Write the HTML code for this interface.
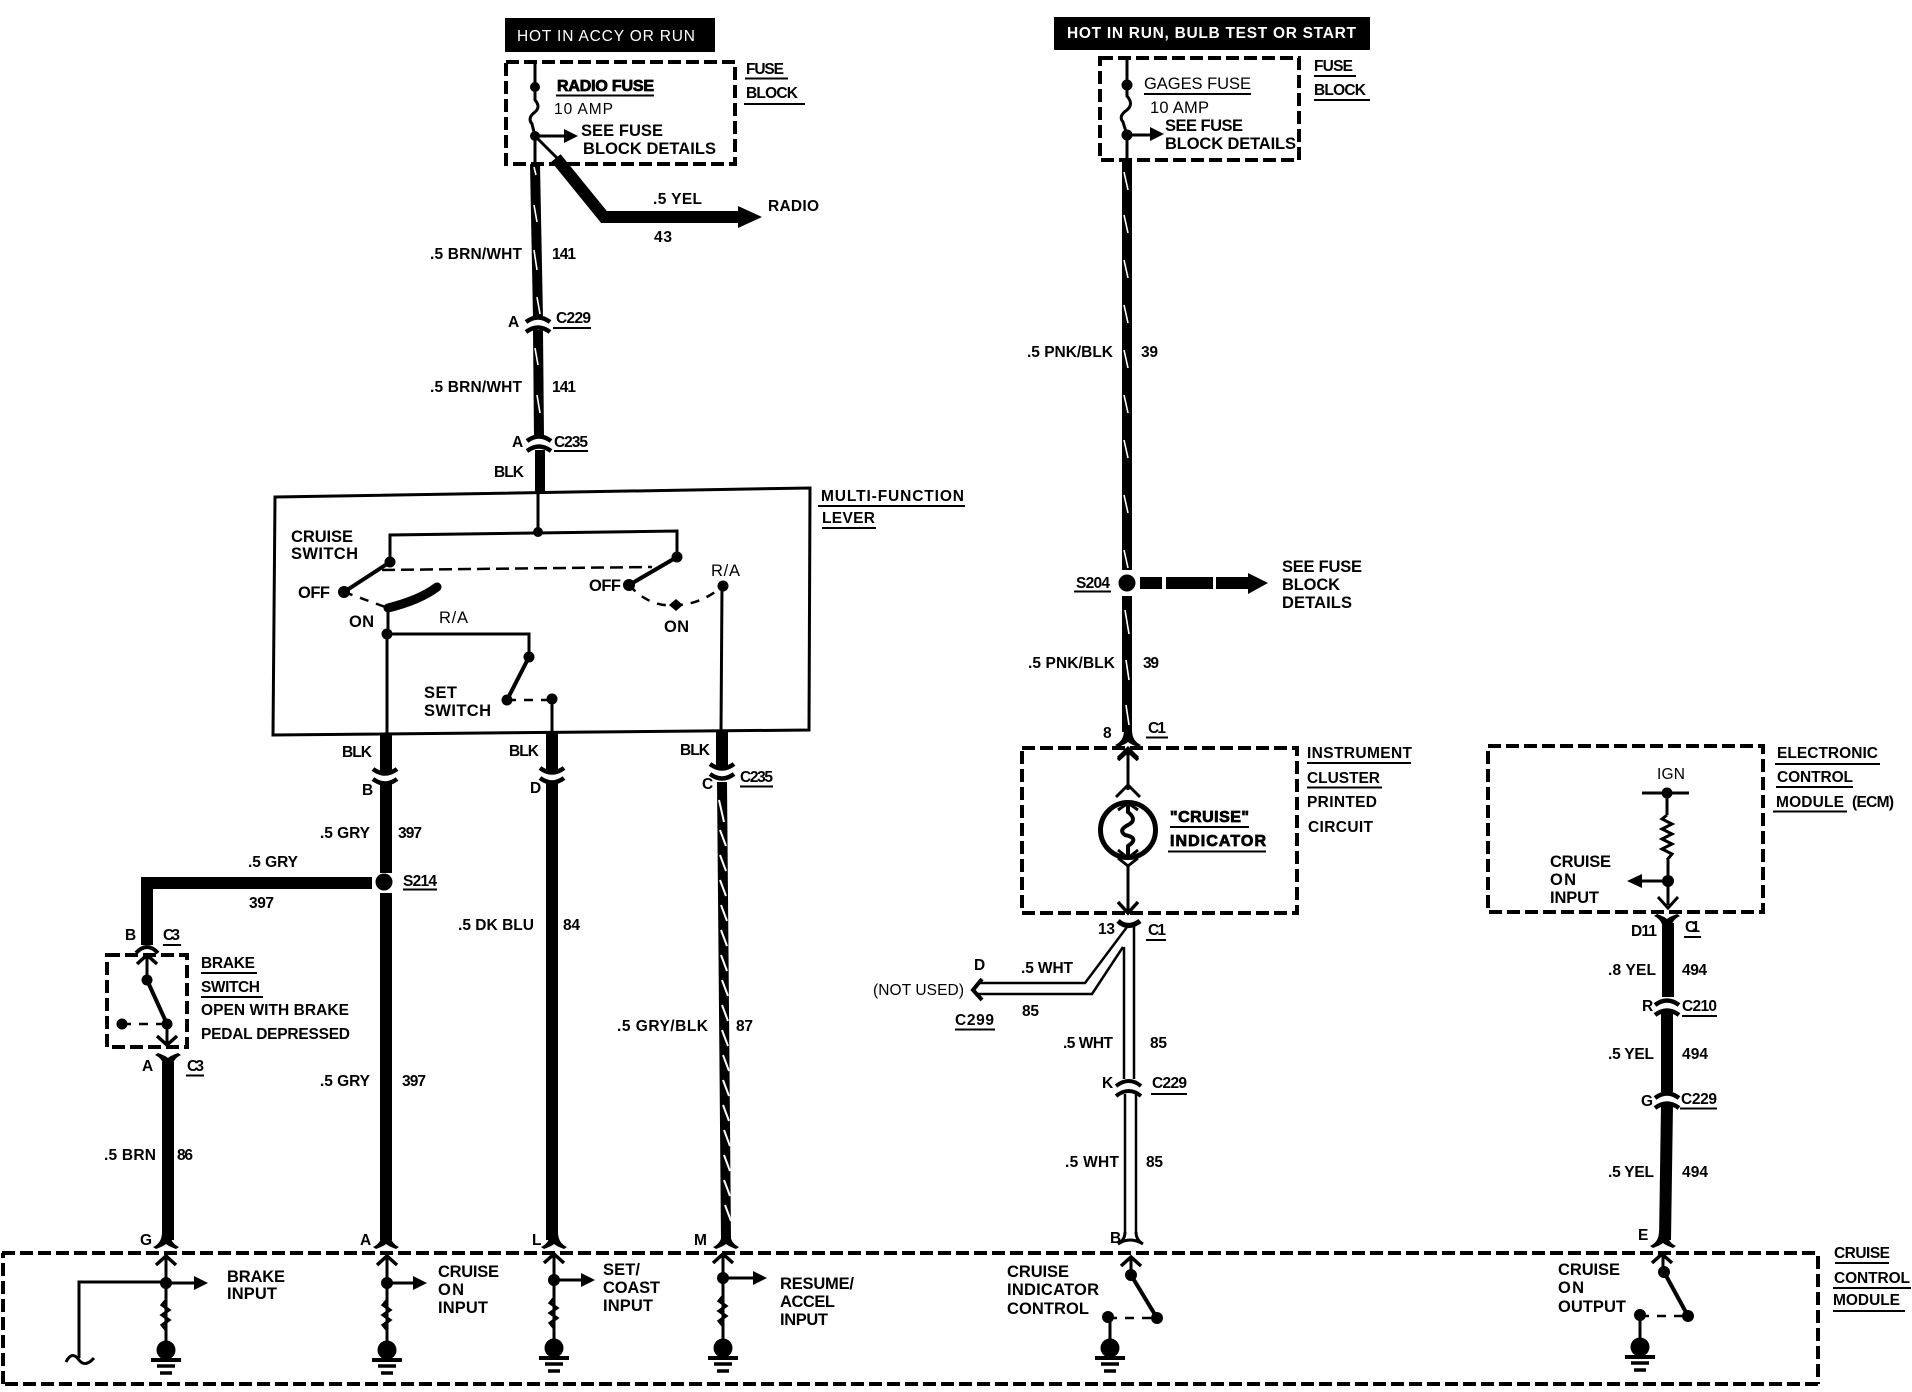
<!DOCTYPE html>
<html><head><meta charset="utf-8"><title>Cruise control wiring diagram</title>
<style>
html,body{margin:0;padding:0;background:#fff}
svg{display:block}
text{font-family:"Liberation Sans",sans-serif;font-weight:700;fill:#000}
.t{font-size:15.5px}
.b{font-size:16.5px}
.hv{stroke:#000;stroke-width:.8px;font-size:16px}
.l{stroke:#000;fill:none;stroke-width:3}
.h{stroke:#fff;fill:none;stroke-width:1.6}
.wire{stroke:#000;fill:none;stroke-width:10}
.wt{stroke:#000;fill:none;stroke-width:12}
.d{stroke:#000;fill:none;stroke-width:4;stroke-dasharray:13 5}
.ds{stroke:#000;fill:none;stroke-width:2.5;stroke-dasharray:9 8}
.u{stroke:#000;fill:none;stroke-width:2}
</style></head><body>
<svg width="1912" height="1392" viewBox="0 0 1912 1392" xmlns="http://www.w3.org/2000/svg">
<defs>
<g id="cup"><path d="M-12 0 Q0 -9 12 0" fill="none" stroke="#000" stroke-width="4.5"/><path d="M-12 10 Q0 1 12 10" fill="none" stroke="#000" stroke-width="4.5"/></g>
<g id="cdn"><path d="M-12 -8 Q0 1 12 -8" fill="none" stroke="#000" stroke-width="4.5"/><path d="M-12 2 Q0 11 12 2" fill="none" stroke="#000" stroke-width="4.5"/></g>
<path id="flare" d="M-13 7 Q-4 3 -4 -8 L4 -8 Q4 3 13 7 L10 9 Q2 6 0 4 Q-2 6 -10 9 Z" fill="#000"/>
<path id="chev" d="M-10 10 L0 1 L10 10" fill="none" stroke="#000" stroke-width="3.5"/>
<path id="res" d="M0 0 l-4 5 l7 5 l-7 5 l7 5 l-7 5 l4 5" fill="none" stroke="#000" stroke-width="3"/>
<g id="gnd"><circle cx="0" cy="0" r="9.5" fill="#000"/><path d="M-15 10 H15" stroke="#000" stroke-width="4"/><path d="M-9 16 H9" stroke="#000" stroke-width="3.5"/><path d="M-6 23 H6" stroke="#000" stroke-width="3.5"/></g>
<path id="ar" d="M0 -7 L14 0 L0 7 Z" fill="#000"/>
</defs>

<!-- Left fuse block -->
<rect x="505" y="18" width="210" height="34" fill="#000"/>
<text x="517" y="41" textLength="178" style="fill:#fff;font-weight:400;font-size:15.5px">HOT IN ACCY OR RUN</text>
<rect class="d" x="506" y="62" width="229" height="102"/>
<path class="l" d="M535 62 V100 Q541 107 535 112 Q527 118 532 124 L535 136 V164"/>
<circle cx="535" cy="87" r="5"/><circle cx="535" cy="136" r="5"/>
<path class="l" d="M535 136 H566"/><use href="#ar" x="564" y="136"/>
<path class="l" d="M535 136 L557 158"/>
<path d="M556 158 L604 217 H745" fill="none" stroke="#000" stroke-width="12"/>
<path d="M738 206 L762 217 L738 228 Z" fill="#000"/>
<text class="hv" x="557" y="91" textLength="97">RADIO FUSE</text><path class="u" d="M556 95.5 H654"/>
<text class="b" x="554" y="114" textLength="59" style="font-size:15.5px;font-weight:400">10 AMP</text>
<text class="b" x="581" y="136" textLength="82">SEE FUSE</text>
<text class="b" x="583" y="154" textLength="133">BLOCK DETAILS</text>
<text class="t" x="746" y="74" textLength="38">FUSE</text><path class="u" d="M745 78.5 H788"/>
<text class="t" x="746" y="98" textLength="52">BLOCK</text><path class="u" d="M744 104 H805"/>
<text class="t" x="653" y="204" textLength="49">.5 YEL</text>
<text class="t" x="654" y="242" textLength="18">43</text>
<text class="t" x="768" y="211" textLength="51">RADIO</text>

<!-- Wire 141 -->
<path class="wire" d="M535 164 L538 318"/>
<use href="#cup" x="538" y="322"/>
<path class="wire" d="M538 330 L539 438"/>
<use href="#cup" x="539" y="441"/>
<path class="wire" d="M540 450 V492"/>
<path class="h" d="M534 167 l2 8 M534 205 l3 17 M534 250 l3 20 M537 297 l3 17 M535 348 l3 17 M537 395 l3 18"/>
<text class="t" x="430" y="259" textLength="92">.5 BRN/WHT</text><text class="t" x="552" y="259" textLength="24">141</text>
<text class="t" x="430" y="392" textLength="92">.5 BRN/WHT</text><text class="t" x="552" y="392" textLength="24">141</text>
<text class="t" x="508" y="327" textLength="11">A</text>
<text class="t" x="556" y="323" textLength="35">C229</text><path class="u" d="M553 328 H591"/>
<text class="t" x="512" y="447" textLength="10">A</text>
<text class="t" x="554" y="447" textLength="34">C235</text><path class="u" d="M554 451 H588"/>
<text class="t" x="494" y="477" textLength="30">BLK</text>

<!-- Multifunction lever -->
<path d="M275 497 L810 488 L809 730 L273 735 Z" fill="none" stroke="#000" stroke-width="3"/>
<text class="t" x="821" y="501" textLength="143">MULTI-FUNCTION</text><path class="u" d="M818 506 H965"/>
<text class="t" x="822" y="523" textLength="53">LEVER</text><path class="u" d="M822 528 H876"/>
<path class="l" d="M538 492 V532 M390 562 V535 L677 531 V557"/>
<circle cx="538" cy="532" r="5"/><circle cx="390" cy="562" r="5.5"/><circle cx="677" cy="557" r="5.5"/>
<path d="M390 562 L344 592 M677 557 L629 585" stroke="#000" stroke-width="4" fill="none"/>
<circle cx="344" cy="592" r="6"/><circle cx="629" cy="585" r="6"/>
<path class="ds" d="M382 570 L652 567" style="stroke-dasharray:13 6"/>
<path class="ds" d="M344 592 L388 608"/>
<path d="M388 608 Q420 600 437 587" stroke="#000" stroke-width="9" fill="none" stroke-linecap="round"/>
<path class="l" d="M388 608 V634 H529 V657 M387 634 V735"/>
<circle cx="387" cy="634" r="5.5"/><circle cx="529" cy="657" r="5.5"/>
<path d="M529 657 L507 700" stroke="#000" stroke-width="4"/>
<circle cx="507" cy="700" r="5.5"/><circle cx="552" cy="699" r="5.5"/>
<path class="ds" d="M507 700 H552"/><path class="l" d="M552 699 V732"/>
<path class="ds" d="M629 585 Q650 608 676 605 Q700 605 723 586"/>
<path d="M669 605 L676 599 L683 605 L676 611 Z" fill="#000"/>
<circle cx="723" cy="586" r="5.5"/><path class="l" d="M722 586 L721 732"/>
<text class="b" x="291" y="542" textLength="62">CRUISE</text>
<text class="b" x="291" y="559" textLength="67">SWITCH</text>
<text class="b" x="298" y="598" textLength="32">OFF</text>
<text class="b" x="349" y="627" textLength="25">ON</text>
<text class="b" x="439" y="623" textLength="29" style="font-weight:400">R/A</text>
<text class="b" x="589" y="591" textLength="32">OFF</text>
<text class="b" x="711" y="576" textLength="29" style="font-weight:400">R/A</text>
<text class="b" x="664" y="632" textLength="25">ON</text>
<text class="b" x="424" y="698" textLength="33">SET</text>
<text class="b" x="424" y="716" textLength="67">SWITCH</text>

<!-- Lever wires -->
<path class="wt" d="M386 735 V772 M552 733 V771 M722 732 V768"/>
<use href="#cdn" x="385" y="777"/><use href="#cdn" x="552" y="776"/><use href="#cdn" x="722" y="772"/>
<path class="wt" d="M386 784 V873 M386 893 V1240"/>
<path class="wt" d="M552 783 V1240"/>
<path d="M722 782 L726 1240" stroke="#000" stroke-width="10" fill="none"/>
<path stroke="#fff" stroke-width="2" fill="none" d="M719 800 l5 22 M720 830 l6 16 M720 855 l6 16 M720 880 l6 16 M721 905 l6 16 M721 930 l6 16 M721 955 l6 16 M722 980 l6 16 M722 1005 l6 16 M722 1030 l6 16 M723 1055 l6 16 M723 1080 l6 16 M723 1105 l6 16 M724 1130 l6 16 M724 1155 l6 16 M724 1180 l6 16 M725 1205 l6 16"/>
<circle cx="384" cy="882" r="8.5"/>
<path class="wt" d="M372 883 H147 V945"/>
<path d="M136 953 Q147 941 158 953" stroke="#000" stroke-width="4" fill="none"/>
<text class="t" x="342" y="757" textLength="30">BLK</text>
<text class="t" x="509" y="756" textLength="30">BLK</text>
<text class="t" x="680" y="755" textLength="30">BLK</text>
<text class="t" x="362" y="795" textLength="9">B</text>
<text class="t" x="530" y="793" textLength="9">D</text>
<text class="t" x="702" y="789" textLength="9">C</text>
<text class="t" x="740" y="782" textLength="33">C235</text><path class="u" d="M740 786.5 H773"/>
<text class="t" x="320" y="838" textLength="50">.5 GRY</text><text class="t" x="398" y="838" textLength="24">397</text>
<text class="t" x="248" y="867" textLength="50">.5 GRY</text><text class="t" x="249" y="908" textLength="25">397</text>
<text class="t" x="403" y="886" textLength="34">S214</text><path class="u" d="M403 889.5 H437"/>
<text class="t" x="320" y="1086" textLength="50">.5 GRY</text><text class="t" x="402" y="1086" textLength="24">397</text>
<text class="t" x="458" y="930" textLength="76">.5 DK BLU</text><text class="t" x="563" y="930" textLength="17">84</text>
<text class="t" x="617" y="1031" textLength="91">.5 GRY/BLK</text><text class="t" x="736" y="1031" textLength="17">87</text>

<!-- Brake switch -->
<rect class="d" x="107" y="955" width="80" height="92"/>
<use href="#chev" x="147" y="954"/>
<path class="l" d="M147 955 V980"/><circle cx="147" cy="980" r="5.5"/>
<path d="M147 980 L167 1024" stroke="#000" stroke-width="4"/>
<circle cx="167" cy="1024" r="5.5"/><circle cx="122" cy="1024" r="5.5"/>
<path class="ds" d="M122 1024 H167"/><path class="l" d="M167 1024 V1045"/>
<path d="M157 1036 L167 1045 L177 1036" stroke="#000" stroke-width="3.5" fill="none"/>
<use href="#flare" transform="translate(168 1062) scale(1 -1)"/>
<path class="wt" d="M168 1062 V1240"/>
<text class="t" x="125" y="940" textLength="9">B</text>
<text class="t" x="163" y="940" textLength="17">C3</text><path class="u" d="M163 945 H181"/>
<text class="t" x="142" y="1071" textLength="11">A</text>
<text class="t" x="187" y="1071" textLength="17">C3</text><path class="u" d="M186 1075.5 H204"/>
<text class="t" x="201" y="968" textLength="54">BRAKE</text><path class="u" d="M201 973 H257"/>
<text class="t" x="201" y="992" textLength="59">SWITCH</text><path class="u" d="M201 997 H263"/>
<text class="t" x="201" y="1015" textLength="148">OPEN WITH BRAKE</text>
<text class="t" x="201" y="1039" textLength="149">PEDAL DEPRESSED</text>
<text class="t" x="104" y="1160" textLength="52">.5 BRN</text><text class="t" x="177" y="1160" textLength="16">86</text>

<!-- Cruise control module -->
<path class="d" d="M2 1253 H1818 M1818 1256 V1384 M1818 1384 H2 M3 1384 V1253"/>
<text class="t" x="1834" y="1258" textLength="56">CRUISE</text><path class="u" d="M1835 1263 H1889"/>
<text class="t" x="1834" y="1283" textLength="76">CONTROL</text><path class="u" d="M1833 1288 H1911"/>
<text class="t" x="1833" y="1305" textLength="67">MODULE</text><path class="u" d="M1833 1311 H1905"/>

<use href="#flare" x="166" y="1240"/><use href="#chev" x="166" y="1255"/>
<path class="l" d="M166 1256 V1345"/><circle cx="166" cy="1283" r="6"/>
<path class="l" d="M166 1283 H196"/><use href="#ar" x="194" y="1283"/>
<path class="l" d="M166 1282 H79 V1358"/>
<path class="l" d="M66 1362 Q72 1350 79 1360 Q85 1368 94 1358"/>
<use href="#res" x="166" y="1300"/><use href="#gnd" x="166" y="1350"/>
<text class="t" x="140" y="1245" textLength="9">G</text>
<text class="b" x="227" y="1282" textLength="58">BRAKE</text><text class="b" x="227" y="1299" textLength="50">INPUT</text>

<use href="#flare" x="386" y="1240"/><use href="#chev" x="387" y="1255"/>
<path class="l" d="M387 1256 V1345"/><circle cx="387" cy="1283" r="6"/>
<path class="l" d="M387 1283 H415"/><use href="#ar" x="413" y="1283"/>
<use href="#res" x="387" y="1300"/><use href="#gnd" x="387" y="1350"/>
<text class="t" x="360" y="1245" textLength="10">A</text>
<text class="b" x="438" y="1277" textLength="61">CRUISE</text><text class="b" x="438" y="1295" textLength="26">ON</text><text class="b" x="438" y="1313" textLength="50">INPUT</text>

<use href="#flare" x="554" y="1240"/><use href="#chev" x="554" y="1253"/>
<path class="l" d="M554 1254 V1345"/><circle cx="554" cy="1280" r="6"/>
<path class="l" d="M554 1280 H583"/><use href="#ar" x="581" y="1280"/>
<use href="#res" x="554" y="1298"/><use href="#gnd" x="554" y="1348"/>
<text class="t" x="532" y="1245" textLength="8">L</text>
<text class="b" x="603" y="1275" textLength="37">SET/</text><text class="b" x="603" y="1293" textLength="57">COAST</text><text class="b" x="603" y="1311" textLength="50">INPUT</text>

<use href="#flare" x="726" y="1240"/><use href="#chev" x="723" y="1253"/>
<path class="l" d="M723 1254 V1345"/><circle cx="723" cy="1278" r="6"/>
<path class="l" d="M723 1278 H755"/><use href="#ar" x="753" y="1278"/>
<use href="#res" x="723" y="1296"/><use href="#gnd" x="723" y="1348"/>
<text class="t" x="694" y="1245" textLength="13">M</text>
<text class="b" x="780" y="1289" textLength="74">RESUME/</text><text class="b" x="780" y="1307" textLength="55">ACCEL</text><text class="b" x="780" y="1325" textLength="48">INPUT</text>

<use href="#chev" x="1131" y="1256"/>
<path class="l" d="M1131 1257 V1275"/><circle cx="1131" cy="1275" r="6"/>
<path d="M1131 1275 L1157 1318" stroke="#000" stroke-width="4"/>
<circle cx="1157" cy="1318" r="6"/><circle cx="1108" cy="1317" r="6"/>
<path class="ds" d="M1108 1318 H1157"/><path class="l" d="M1110 1317 V1345"/>
<use href="#gnd" x="1110" y="1348"/>
<text class="t" x="1110" y="1243" textLength="9">B</text>
<text class="b" x="1007" y="1277" textLength="62">CRUISE</text><text class="b" x="1007" y="1295" textLength="92">INDICATOR</text><text class="b" x="1007" y="1314" textLength="82">CONTROL</text>

<use href="#flare" x="1663" y="1239"/><use href="#chev" x="1662" y="1253"/>
<path class="l" d="M1663 1254 V1272"/><circle cx="1664" cy="1272" r="6"/>
<path d="M1664 1272 L1688 1316" stroke="#000" stroke-width="4"/>
<circle cx="1688" cy="1316" r="6"/><circle cx="1640" cy="1315" r="6"/>
<path class="ds" d="M1640 1316 H1688"/><path class="l" d="M1640 1315 V1345"/>
<use href="#gnd" x="1640" y="1347"/>
<text class="t" x="1638" y="1240" textLength="9">E</text>
<text class="b" x="1558" y="1275" textLength="62">CRUISE</text><text class="b" x="1558" y="1293" textLength="26">ON</text><text class="b" x="1558" y="1312" textLength="68">OUTPUT</text>

<!-- Right fuse block -->
<rect x="1054" y="17" width="316" height="33" fill="#000"/>
<text x="1067" y="38" textLength="289" style="fill:#fff;font-size:15.5px">HOT IN RUN, BULB TEST OR START</text>
<rect class="d" x="1100" y="58" width="199" height="102"/>
<path class="l" d="M1127 58 V96 Q1134 104 1127 110 Q1118 116 1123 122 L1127 135 V162"/>
<circle cx="1127" cy="85" r="5.5"/><circle cx="1127" cy="135" r="5.5"/>
<path class="l" d="M1127 135 H1152"/><use href="#ar" x="1150" y="134"/>
<text class="b" x="1144" y="89" textLength="107" style="font-weight:400">GAGES FUSE</text><path class="u" d="M1144 94 H1251"/>
<text class="b" x="1150" y="113" textLength="59" style="font-weight:400">10 AMP</text>
<text class="b" x="1165" y="131" textLength="78">SEE FUSE</text>
<text class="b" x="1165" y="149" textLength="131">BLOCK DETAILS</text>
<text class="t" x="1314" y="71" textLength="39">FUSE</text><path class="u" d="M1314 76 H1356"/>
<text class="t" x="1314" y="95" textLength="52">BLOCK</text><path class="u" d="M1314 100 H1370"/>

<!-- Wire 39 -->
<path class="wire" d="M1127 161 V570 M1127 596 V732"/>
<path class="h" d="M1124 172 l4 18 M1124 215 l4 18 M1124 260 l4 18 M1124 305 l4 18 M1124 350 l4 18 M1124 395 l4 18 M1124 440 l4 18 M1124 495 l4 18 M1124 550 l4 18 M1125 610 l4 24 M1126 660 l3 20 M1126 705 l3 20"/>
<circle cx="1127" cy="583" r="8.5"/>
<path d="M1140 577 H1162 V589 H1140 Z M1166 577 H1213 V589 H1166 Z M1216 577 H1248 V573 L1268 583 L1248 594 V589 H1216 Z" fill="#000"/>
<text class="b" x="1282" y="572" textLength="80">SEE FUSE</text><text class="b" x="1282" y="590" textLength="58">BLOCK</text><text class="b" x="1282" y="608" textLength="70">DETAILS</text>
<text class="t" x="1076" y="588" textLength="34">S204</text><path class="u" d="M1074 591.5 H1111"/>
<text class="t" x="1027" y="357" textLength="86">.5 PNK/BLK</text><text class="t" x="1141" y="357" textLength="17">39</text>
<text class="t" x="1028" y="668" textLength="87">.5 PNK/BLK</text><text class="t" x="1143" y="668" textLength="16">39</text>

<!-- Instrument cluster -->
<use href="#flare" x="1128" y="738"/>
<rect class="d" x="1022" y="748" width="275" height="165"/>
<path class="l" d="M1128 750 V790"/><use href="#chev" x="1128" y="750"/>
<path d="M1118 758 L1128 748 L1138 758" stroke="#000" stroke-width="3" fill="none"/>
<path d="M1116 797 L1128 785 L1140 797" stroke="#000" stroke-width="3" fill="none"/>
<circle cx="1128" cy="830" r="27.5" fill="none" stroke="#000" stroke-width="5"/>
<path d="M1128 805 V812 Q1138 820 1128 825 Q1118 830 1125 835 Q1140 838 1128 846 V856" fill="none" stroke="#000" stroke-width="4"/>
<path d="M1118 858 L1128 866 L1138 858 M1118 810 L1128 803 L1138 810 M1118 850 L1128 858 L1138 850" stroke="#000" stroke-width="3" fill="none"/>
<path class="l" d="M1128 866 V911"/>
<path d="M1118 902 L1128 913 L1138 902" stroke="#000" stroke-width="3.5" fill="none"/>
<text class="hv" x="1170" y="822" textLength="79">"CRUISE"</text><path class="u" d="M1170 827 H1249"/>
<text class="hv" x="1170" y="846" textLength="96">INDICATOR</text><path class="u" d="M1168 851.5 H1266"/>
<text class="t" x="1307" y="758" textLength="105">INSTRUMENT</text><path class="u" d="M1307 763 H1411"/>
<text class="t" x="1307" y="783" textLength="73">CLUSTER</text><path class="u" d="M1307 787.5 H1382"/>
<text class="t" x="1307" y="807" textLength="70">PRINTED</text>
<text class="t" x="1308" y="832" textLength="65">CIRCUIT</text>
<text class="t" x="1103" y="738" textLength="9">8</text>
<text class="t" x="1148" y="733" textLength="18">C1</text><path class="u" d="M1146 737.5 H1168"/>
<text class="t" x="1098" y="934" textLength="17">13</text>
<text class="t" x="1148" y="935" textLength="18">C1</text><path class="u" d="M1146 940 H1166"/>

<!-- White wire 85 -->
<path d="M1118 921 Q1128 930 1140 921" stroke="#000" stroke-width="5" fill="none"/>
<path d="M1134 926 V1079 M1124 947 V1079 M1127 927 L1085 983 H978 M1123 947 L1092 994 H978" stroke="#000" stroke-width="2.5" fill="none"/>
<path d="M982 979 L973 990 L982 1000" stroke="#000" stroke-width="4" fill="none"/>
<path d="M1116 1086 Q1129 1076 1141 1086 M1116 1096 Q1129 1086 1141 1096" stroke="#000" stroke-width="4" fill="none"/>
<path d="M1125 1094 V1232 M1136 1094 V1232" stroke="#000" stroke-width="2.5" fill="none"/>
<path d="M1125 1232 Q1125 1240 1118 1244 M1136 1232 Q1136 1240 1143 1244 M1118 1244 Q1130 1236 1143 1244" stroke="#000" stroke-width="3" fill="none"/>
<text class="t" x="974" y="970" textLength="11">D</text>
<text class="t" x="1021" y="973" textLength="52">.5 WHT</text>
<text class="t" x="1022" y="1016" textLength="17">85</text>
<text class="t" x="873" y="995" textLength="91" style="font-weight:400">(NOT USED)</text>
<text class="t" x="955" y="1025" textLength="39">C299</text><path class="u" d="M955 1029.5 H995"/>
<text class="t" x="1063" y="1048" textLength="50">.5 WHT</text><text class="t" x="1150" y="1048" textLength="17">85</text>
<text class="t" x="1102" y="1088" textLength="10">K</text>
<text class="t" x="1152" y="1088" textLength="35">C229</text><path class="u" d="M1151 1094 H1187"/>
<text class="t" x="1065" y="1167" textLength="54">.5 WHT</text><text class="t" x="1146" y="1167" textLength="17">85</text>

<!-- ECM -->
<rect class="d" x="1488" y="746" width="275" height="166"/>
<text class="t" x="1657" y="779" textLength="28" style="font-weight:400">IGN</text>
<path class="l" d="M1642 793 H1689 M1667 793 V815 M1668 860 V905"/>
<circle cx="1667" cy="793" r="5.5"/>
<path d="M1667 815 l-5 4 l10 5 l-10 5 l10 5 l-10 5 l10 5 l-10 5 l10 5 l-5 6" fill="none" stroke="#000" stroke-width="3"/>
<circle cx="1668" cy="881" r="6"/>
<path class="l" d="M1668 881 H1640"/><path d="M1642 874 L1627 881 L1642 888 Z" fill="#000"/>
<path d="M1658 897 L1668 908 L1678 897" stroke="#000" stroke-width="3" fill="none"/>
<text class="b" x="1550" y="867" textLength="61">CRUISE</text><text class="b" x="1550" y="885" textLength="26">ON</text><text class="b" x="1550" y="903" textLength="49">INPUT</text>
<use href="#flare" transform="translate(1667 923) scale(1 -1)"/>
<path class="wt" d="M1668 923 V997"/>
<use href="#cup" x="1667" y="1005"/>
<path class="wt" d="M1667 1012 V1092"/>
<use href="#cup" x="1667" y="1098"/>
<path class="wt" d="M1667 1105 L1665 1240"/>
<text class="t" x="1777" y="758" textLength="101">ELECTRONIC</text><path class="u" d="M1775 764 H1880"/>
<text class="t" x="1777" y="782" textLength="76">CONTROL</text><path class="u" d="M1776 787 H1853"/>
<text class="t" x="1776" y="807" textLength="68">MODULE</text><path class="u" d="M1773 811.5 H1847"/>
<text class="t" x="1852" y="807" textLength="42">(ECM)</text>
<text class="t" x="1631" y="936" textLength="26">D11</text>
<text class="t" x="1685" y="932" textLength="15">C1</text><path class="u" d="M1684 937 H1701"/>
<text class="t" x="1608" y="975" textLength="48">.8 YEL</text><text class="t" x="1682" y="975" textLength="25">494</text>
<text class="t" x="1642" y="1011" textLength="10">R</text>
<text class="t" x="1682" y="1011" textLength="35">C210</text><path class="u" d="M1682 1016 H1717"/>
<text class="t" x="1608" y="1059" textLength="46">.5 YEL</text><text class="t" x="1682" y="1059" textLength="26">494</text>
<text class="t" x="1641" y="1106" textLength="10">G</text>
<text class="t" x="1681" y="1104" textLength="36">C229</text><path class="u" d="M1680 1108.5 H1717"/>
<text class="t" x="1608" y="1177" textLength="46">.5 YEL</text><text class="t" x="1682" y="1177" textLength="26">494</text>
</svg>
</body></html>
